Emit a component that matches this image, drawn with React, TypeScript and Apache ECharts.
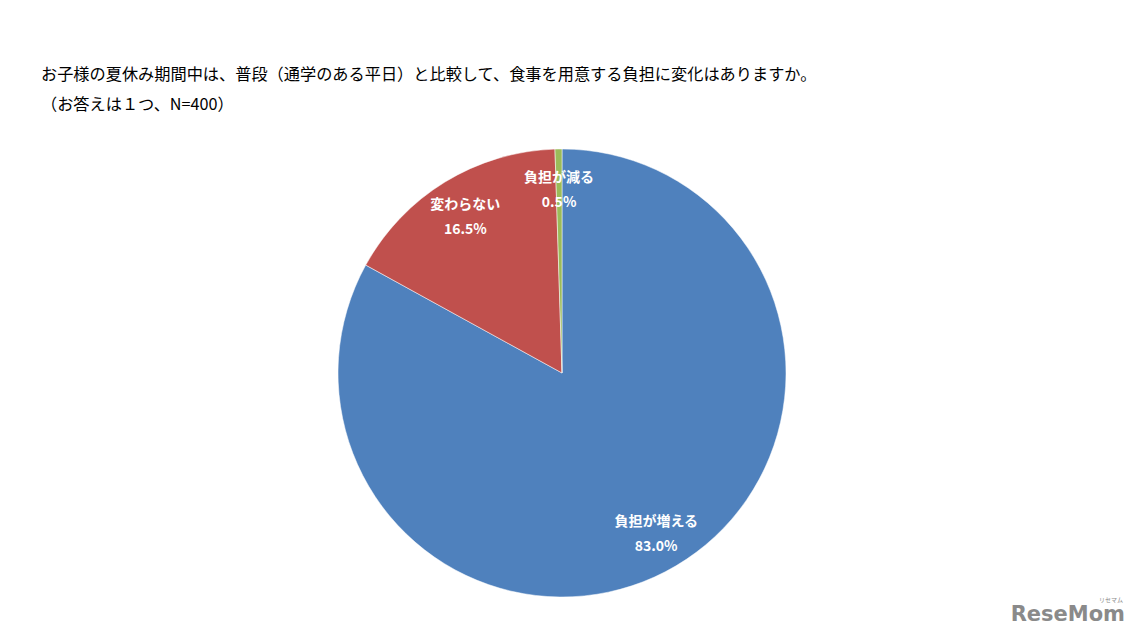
import React, { useEffect, useRef } from "react";
import * as echarts from "echarts";

const categories = ["負担が増える", "変わらない", "負担が減る"];
const values = [83.0, 16.5, 0.5];
const colors = ["#4F81BD", "#C0504D", "#9BBB59"];
const titleText = "お子様の夏休み期間中は、普段（通学のある平日）と比較して、食事を用意する負担に変化はありますか。";
const subText = "（お答えは１つ、N=400）";

const FONT = "'Noto Sans CJK JP', 'Noto Sans', sans-serif";

export default function App() {
  const ref = useRef<HTMLDivElement>(null);
  useEffect(() => {
    document.body.style.margin = "0";
    const chart = echarts.init(ref.current!, null, { renderer: "svg" });
    const data = categories.map((c, i) => ({
      name: c,
      value: values[i],
      itemStyle: { color: colors[i] },
    }));
    chart.setOption({
      animation: false,
      backgroundColor: "#ffffff",
      title: [
        {
          text: titleText,
          left: 36,
          top: 60,
          textStyle: { fontFamily: FONT, fontSize: 16.2, fontWeight: "normal", color: "#000" },
        },
        {
          text: subText,
          left: 36,
          top: 90,
          textStyle: { fontFamily: FONT, fontSize: 16.2, fontWeight: "normal", color: "#000" },
        },
      ],
      series: [
        {
          type: "pie",
          center: [562, 373],
          radius: 224,
          startAngle: 90,
          clockwise: true,
          silent: true,
          label: { show: false },
          labelLine: { show: false },
          itemStyle: { borderColor: "#ffffff", borderWidth: 0.5 },
          data,
        },
        {
          type: "pie",
          center: [562, 373],
          radius: [140, 224],
          startAngle: 90,
          clockwise: true,
          silent: true,
          itemStyle: { color: "rgba(0,0,0,0)" },
          label: {
            show: true,
            position: "inside",
            color: "#ffffff",
            fontFamily: FONT,
            fontWeight: "bold",
            fontSize: 14,
            lineHeight: 25,
            formatter: (p: any) => `${p.name}\n${Number(p.value).toFixed(1)}%`,
          },
          labelLine: { show: false },
          data: categories.map((c, i) => ({ name: c, value: values[i] })),
        },
      ],
      graphic: [
        {
          type: "text",
          right: 14,
          bottom: 12,
          style: {
            text: "ReseMom",
            fill: "#8a8a8a",
            font: "bold 21px 'DejaVu Sans', sans-serif",
          },
        },
        {
          type: "text",
          right: 16,
          bottom: 34,
          style: {
            text: "リセマム",
            fill: "#8a8a8a",
            font: "6px 'Noto Sans CJK JP', sans-serif",
          },
        },
      ],
    });
    return () => chart.dispose();
  }, []);
  return <div ref={ref} style={{ width: 1139, height: 636 }} />;
}
